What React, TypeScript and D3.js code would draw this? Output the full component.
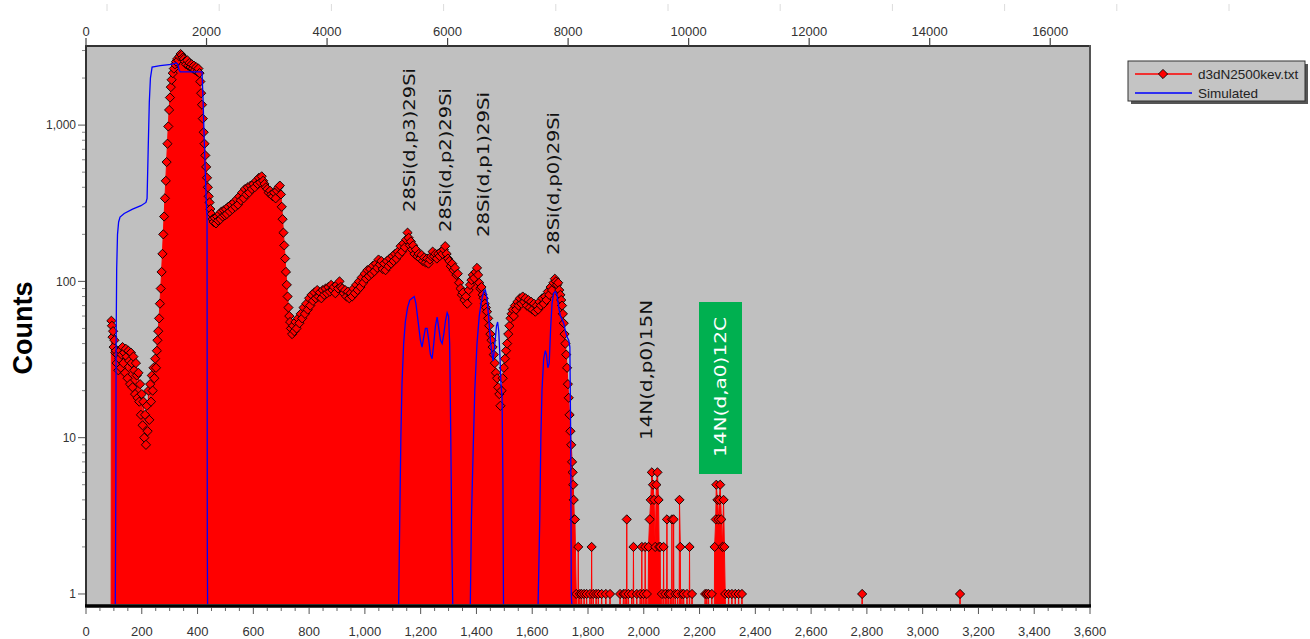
import React from 'react';
import * as d3 from 'd3';

const W = 1310;
const H = 639;
const plot = { left: 86, right: 1090, top: 47, bottom: 605 };

const specCh = [
  91, 93, 95, 97, 99, 102, 105, 107, 110, 113,
  116, 119, 122, 125, 128, 131, 134, 137, 140, 143,
  146, 149, 152, 155, 158, 161, 164, 167, 170, 173,
  176, 179, 182, 185, 188, 191, 194, 197, 200, 203,
  206, 209, 212, 215, 218, 221, 224, 227, 230, 233,
  236, 239, 242, 245, 248, 251, 254, 256, 259, 262,
  265, 268, 271, 274, 277, 280, 283, 286, 289, 292,
  295, 298, 301, 304, 307, 311, 315, 319, 323, 327,
  331, 335, 339, 343, 347, 351, 355, 359, 363, 367,
  371, 375, 379, 383, 387, 391, 395, 399, 403, 407,
  410, 413, 416, 419, 422, 425, 428, 431, 434, 437,
  440, 443, 446, 450, 454, 458, 462, 466, 470, 474,
  478, 482, 486, 490, 494, 498, 502, 505, 510, 515,
  520, 525, 530, 535, 540, 545, 550, 555, 560, 565,
  570, 575, 580, 585, 590, 595, 600, 605, 610, 615,
  620, 625, 630, 635, 640, 645, 650, 655, 660, 665,
  670, 675, 680, 685, 690, 695, 699, 702, 705, 708,
  711, 714, 717, 720, 723, 726, 729, 732, 735, 739,
  743, 747, 751, 755, 760, 765, 770, 775, 780, 785,
  790, 795, 800, 804, 809, 814, 819, 824, 829, 834,
  839, 844, 849, 854, 859, 864, 869, 874, 879, 884,
  889, 894, 899, 904, 909, 914, 919, 924, 929, 934,
  939, 944, 949, 954, 959, 964, 969, 974, 979, 984,
  989, 994, 999, 1004, 1009, 1014, 1019, 1024, 1029, 1034,
  1039, 1044, 1049, 1054, 1059, 1064, 1069, 1074, 1079, 1084,
  1089, 1094, 1099, 1103, 1108, 1113, 1118, 1123, 1128, 1133,
  1138, 1143, 1148, 1153, 1157, 1161, 1165, 1169, 1173, 1178,
  1183, 1188, 1193, 1198, 1203, 1208, 1213, 1218, 1223, 1228,
  1233, 1238, 1243, 1248, 1253, 1258, 1263, 1268, 1273, 1278,
  1283, 1288, 1293, 1298, 1303, 1308, 1313, 1318, 1323, 1328,
  1333, 1338, 1343, 1348, 1352, 1357, 1362, 1367, 1372, 1377,
  1382, 1387, 1392, 1397, 1402, 1406, 1410, 1414, 1418, 1422,
  1426, 1430, 1434, 1438, 1442, 1446, 1450, 1454, 1458, 1462,
  1466, 1470, 1474, 1478, 1482, 1486, 1490, 1494, 1498, 1502,
  1506, 1510, 1514, 1518, 1522, 1526, 1530, 1534, 1538, 1542,
  1547, 1551, 1556, 1561, 1566, 1571, 1576, 1581, 1586, 1591,
  1596, 1601, 1606, 1611, 1616, 1621, 1626, 1631, 1636, 1641,
  1646, 1651, 1656, 1661, 1666, 1671, 1676, 1681, 1685, 1689,
  1693, 1697, 1701, 1704, 1707, 1710, 1713, 1716, 1719, 1722,
  1725, 1728, 1731, 1734, 1737, 1740, 1743, 1745, 1747, 1749,
  1751, 1753,
];
const specCounts = [
  56, 52, 44, 48, 38, 42, 35, 36, 30, 34,
  27, 32, 36, 28, 34, 38, 30, 35, 26, 37,
  33, 24, 36, 31, 22, 35, 30, 21, 33, 27,
  19, 30, 25, 18, 26, 17, 22, 14, 19, 12,
  17, 10, 14, 9, 16, 11, 20, 13, 22, 17,
  25, 20, 28, 24, 32, 28, 36, 42, 48, 58,
  72, 90, 115, 150, 200, 260, 340, 440, 580, 760,
  980, 1250, 1500, 1750, 1950, 2150, 2300, 2450, 2550, 2650,
  2600, 2750, 2850, 2800, 2700, 2650, 2550, 2450, 2600, 2400,
  2500, 2350, 2450, 2300, 2400, 2250, 2350, 2200, 2300, 2150,
  1900, 1600, 1350, 1100, 900, 760, 640, 540, 460, 400,
  350, 320, 290, 270, 250, 240, 255, 235, 260, 245,
  270, 250, 280, 260, 285, 265, 290, 270, 300, 280,
  310, 290, 320, 300, 335, 310, 350, 330, 370, 340,
  390, 360, 400, 370, 410, 390, 420, 400, 440, 420,
  460, 430, 470, 440, 420, 400, 390, 370, 380, 360,
  350, 370, 340, 380, 400, 410, 360, 300, 250, 205,
  170, 140, 115, 95, 80, 68, 60, 55, 50, 46,
  52, 48, 55, 50, 58, 54, 62, 58, 68, 62,
  72, 66, 78, 70, 82, 75, 85, 78, 88, 80,
  85, 78, 88, 82, 90, 84, 92, 86, 95, 88,
  92, 84, 95, 90, 100, 92, 90, 84, 88, 80,
  86, 78, 84, 80, 90, 84, 95, 88, 100, 92,
  106, 98, 112, 104, 118, 108, 120, 112, 126, 116,
  130, 122, 138, 128, 135, 120, 130, 118, 135, 125,
  140, 130, 145, 135, 150, 140, 155, 148, 168, 155,
  175, 165, 185, 205, 190, 170, 180, 160, 170, 150,
  160, 145, 150, 140, 148, 135, 142, 132, 140, 130,
  138, 145, 155, 145, 150, 140, 150, 145, 155, 150,
  160, 168, 150, 140, 135, 125, 130, 118, 122, 110,
  112, 98, 90, 82, 85, 76, 80, 72, 88, 95,
  102, 110, 105, 115, 122, 110, 98, 90, 92, 82,
  78, 72, 68, 64, 58, 52, 46, 42, 38, 34,
  30, 26, 24, 21, 19, 16, 20, 24, 28, 32,
  36, 40, 46, 52, 58, 62, 66, 60, 70, 66,
  74, 70, 78, 72, 80, 74, 78, 70, 76, 68,
  74, 66, 72, 64, 70, 66, 74, 70, 78, 72,
  80, 76, 86, 82, 92, 88, 98, 104, 100, 95,
  98, 88, 82, 76, 70, 62, 54, 46, 40, 34,
  28, 22, 18, 14, 11, 9, 7, 6, 5, 4,
  3, 3,
];

// sparse high-channel counts (zero elsewhere)
const tailCh = [
  1758, 1765, 1771, 1777, 1786, 1795, 1807, 1813, 1819, 1829,
  1837, 1849, 1864, 1879, 1915, 1927, 1933, 1939, 1945, 1957,
  1963, 1975, 1987, 1993, 1999, 2005, 2011, 2017, 2021, 2025,
  2029, 2033, 2037, 2041, 2045, 2049, 2053, 2055, 2059, 2065,
  2071, 2077, 2083, 2089, 2095, 2101, 2107, 2113, 2121, 2128,
  2131, 2137, 2143, 2155, 2164, 2173, 2220, 2226, 2232, 2244,
  2254, 2258, 2260, 2264, 2268, 2271, 2274, 2278, 2282, 2286,
  2289, 2292, 2304, 2316, 2328, 2340, 2352, 2783, 3134,
];
const tailCounts = [
  1, 2, 1, 1, 1, 1, 1, 2, 1, 1,
  1, 1, 1, 1, 1, 1, 1, 3, 1, 1,
  2, 1, 1, 2, 1, 2, 1, 2, 3, 4,
  6, 5, 4, 2, 5, 6, 4, 2, 2, 1,
  2, 1, 3, 1, 1, 3, 3, 1, 1, 4,
  2, 1, 1, 1, 2, 1, 1, 1, 1, 1,
  2, 3, 5, 4, 3, 4, 5, 3, 2, 4,
  2, 1, 1, 1, 1, 1, 1, 1, 1,
];

// simulated spectrum
const simCh = [
  0, 105, 107, 108, 110, 113, 117, 122, 137, 167,
  197, 215, 219, 223, 227, 231, 237, 266, 306, 324,
  329, 334, 338, 416, 420, 424, 428, 432, 434, 435,
  436, 1121, 1125, 1129, 1133, 1139, 1145, 1153, 1161, 1169,
  1177, 1183, 1191, 1199, 1205, 1211, 1217, 1223, 1229, 1235,
  1241, 1247, 1253, 1259, 1265, 1271, 1277, 1283, 1289, 1295,
  1300, 1304, 1308, 1312, 1315, 1378, 1382, 1388, 1394, 1402,
  1410, 1418, 1426, 1432, 1438, 1444, 1450, 1456, 1460, 1466,
  1472, 1476, 1480, 1484, 1488, 1492, 1495, 1497, 1621, 1627,
  1631, 1635, 1641, 1647, 1651, 1656, 1661, 1666, 1671, 1677,
  1683, 1689, 1695, 1701, 1707, 1713, 1719, 1725, 1731, 1735,
  1738, 1740, 1742, 3600,
];
const simCounts = [
  0, 0, 5, 40, 120, 200, 240, 258, 272, 290,
  305, 320, 340, 700, 1400, 2000, 2350, 2400, 2450, 2500,
  2450, 2250, 2190, 2190, 1400, 800, 480, 300, 260, 2,
  0, 0, 3, 10, 22, 40, 55, 68, 76, 78,
  80, 72, 55, 42, 38, 44, 50, 50, 42, 34,
  32, 40, 52, 59, 50, 42, 40, 46, 56, 63,
  60, 40, 10, 2, 0, 0, 3, 8, 20, 40,
  60, 75, 86, 88, 78, 58, 42, 34, 31, 40,
  52, 55, 48, 34, 22, 18, 5, 0, 0, 3,
  10, 20, 32, 36, 34, 28, 30, 50, 72, 84,
  86, 82, 68, 60, 57, 54, 48, 44, 42, 38,
  10, 1, 0, 0,
];

const channelTicks = [0, 200, 400, 600, 800, 1000, 1200, 1400, 1600, 1800, 2000, 2200, 2400, 2600, 2800, 3000, 3200, 3400, 3600];
const energyTicks = [0, 2000, 4000, 6000, 8000, 10000, 12000, 14000, 16000];
const countTicks = [1, 10, 100, 1000];

const peakLabels = ['28Si(d,p3)29Si', '28Si(d,p2)29Si', '28Si(d,p1)29Si', '28Si(d,p0)29Si', '14N(d,p0)15N', '14N(d,a0)12C'];
// label placement (screen px): centre x, top and bottom of the rotated text
const peakLayout = [
  { cx: 409, top: 68, bottom: 212 },
  { cx: 445, top: 88, bottom: 232 },
  { cx: 483, top: 92, bottom: 237 },
  { cx: 553, top: 112, bottom: 255 },
  { cx: 646, top: 300, bottom: 440 },
  { cx: 720, top: 317, bottom: 457 },
];
const legendLabels = ['d3dN2500kev.txt', 'Simulated'];

const diamond = 'M0,-4.6L4.6,0L0,4.6L-4.6,0Z';
const sans = "'Liberation Sans', Arial, sans-serif";

export default function App() {
  const x = d3.scaleLinear().domain([0, 3600]).range([plot.left, plot.right]);
  const xTop = d3.scaleLinear().domain([0, 16660]).range([plot.left, plot.right]);
  const y = d3.scaleLog().domain([0.85, 3160]).range([plot.bottom, plot.top]).clamp(true);

  // spectrum with zero channels between separated points
  const raw: [number, number][] = specCh
    .map((c, i) => [c, specCounts[i]] as [number, number])
    .concat(tailCh.map((c, i) => [c, tailCounts[i]] as [number, number]));
  const series: [number, number][] = [];
  raw.forEach((p, i) => {
    const prev = raw[i - 1];
    const next = raw[i + 1];
    if (!prev || p[0] - prev[0] > 5) series.push([p[0] - 1, 0]);
    series.push(p);
    if (!next || next[0] - p[0] > 5) series.push([p[0] + 1, 0]);
  });
  const sim: [number, number][] = simCh.map((c, i) => [c, simCounts[i]]);

  const area = d3.area<[number, number]>()
    .x(d => x(d[0]))
    .y0(plot.bottom)
    .y1(d => y(d[1]));
  const line = d3.line<[number, number]>()
    .x(d => x(d[0]))
    .y(d => y(d[1]));

  const minorX = d3.range(0, 3601, 50).filter(v => v % 200 !== 0);
  const minorY = y.ticks().filter(v => countTicks.indexOf(v) < 0 && v >= 1);
  const ghost = d3.scaleLinear().domain([0, 10]).range([107, 1229]);
  const fmt = d3.format(',');

  return (
    <svg width={W} height={H} style={{ position: 'absolute', left: 0, top: 0, background: '#fff' }} fontFamily={sans}>
      <defs>
        <clipPath id="plotClip">
          <rect x={plot.left} y={plot.top} width={plot.right - plot.left} height={plot.bottom - plot.top - 1} />
        </clipPath>
      </defs>

      {d3.range(11).map(i => (
        <line key={'g' + i} x1={ghost(i)} x2={ghost(i)} y1={4} y2={11} stroke="#dcdcdc" strokeWidth={1} />
      ))}

      <rect x={plot.left} y={plot.top} width={plot.right - plot.left} height={plot.bottom - plot.top} fill="#c0c0c0" />

      <g clipPath="url(#plotClip)">
        <path d={area(series) || ''} fill="#ff0000" />
        <path d={line(series) || ''} fill="none" stroke="#ff0000" strokeWidth={1} />
        {series.filter(d => d[1] > 0).map((d, i) => (
          <path key={i} d={diamond} transform={`translate(${x(d[0])},${y(d[1])})`} fill="#ff0000" stroke="#000" strokeWidth={0.9} />
        ))}
        <path d={line(sim) || ''} fill="none" stroke="#0000ff" strokeWidth={1.3} />
      </g>

      {/* frame */}
      <line x1={plot.left} x2={plot.right} y1={46} y2={46} stroke="#333" strokeWidth={2} />
      <line x1={plot.left} x2={plot.left} y1={45} y2={607} stroke="#333" strokeWidth={2} />
      <line x1={plot.right} x2={plot.right} y1={45} y2={607} stroke="#555" strokeWidth={2} />
      <line x1={plot.left - 1} x2={plot.right + 1} y1={606} y2={606} stroke="#000" strokeWidth={3.5} />

      {/* bottom axis */}
      {minorX.map(v => (
        <line key={'mx' + v} x1={x(v)} x2={x(v)} y1={608} y2={611} stroke="#666" strokeWidth={1} />
      ))}
      {channelTicks.map(v => (
        <g key={'bx' + v}>
          <line x1={x(v)} x2={x(v)} y1={608} y2={614} stroke="#555" strokeWidth={1} />
          <text x={x(v)} y={636} textAnchor="middle" fontSize={13} fill="#333">{fmt(v)}</text>
        </g>
      ))}

      {/* top axis */}
      {energyTicks.map(v => (
        <g key={'tx' + v}>
          <line x1={xTop(v)} x2={xTop(v)} y1={38} y2={46} stroke="#444" strokeWidth={1.2} />
          <text x={xTop(v)} y={36} textAnchor="middle" fontSize={13} fill="#333">{v}</text>
        </g>
      ))}

      {/* left axis */}
      {minorY.map(v => (
        <line key={'my' + v} x1={82} x2={85} y1={y(v)} y2={y(v)} stroke="#888" strokeWidth={1} />
      ))}
      {countTicks.map(v => (
        <g key={'ly' + v}>
          <line x1={78} x2={85} y1={y(v)} y2={y(v)} stroke="#555" strokeWidth={1} />
          <text x={76} y={y(v) + 4.3} textAnchor="end" fontSize={12} fill="#333">{fmt(v)}</text>
        </g>
      ))}
      <text transform="translate(32,328) rotate(-90)" textAnchor="middle" fontSize={27} fontWeight="bold" fill="#000">Counts</text>

      {/* peak annotations */}
      <rect x={699} y={302} width={43} height={172} fill="#00b050" />
      {peakLabels.map((t, i) => {
        const p = peakLayout[i];
        const green = i === peakLabels.length - 1;
        return (
          <text
            key={t}
            transform={`translate(${p.cx},${(p.top + p.bottom) / 2}) rotate(-90)`}
            textAnchor="middle"
            dominantBaseline="central"
            fontFamily="'DejaVu Sans', sans-serif"
            fontSize={16}
            textLength={p.bottom - p.top}
            lengthAdjust="spacingAndGlyphs"
            fill={green ? '#ffffff' : '#111'}
          >
            {t}
          </text>
        );
      })}

      {/* legend */}
      <rect x={1131} y={64} width={177} height={40} fill="#555" />
      <rect x={1128} y={61} width={177} height={40} fill="#c4c4c4" stroke="#333" strokeWidth={1} />
      <line x1={1135} x2={1192} y1={74} y2={74} stroke="#ff0000" strokeWidth={1.3} />
      <path d={diamond} transform="translate(1163,74)" fill="#ff0000" stroke="#000" strokeWidth={0.9} />
      <text x={1198} y={78.5} fontSize={13.5} fill="#222">{legendLabels[0]}</text>
      <line x1={1135} x2={1192} y1={93} y2={93} stroke="#0000ff" strokeWidth={1.3} />
      <text x={1198} y={97.5} fontSize={13.5} fill="#222">{legendLabels[1]}</text>
    </svg>
  );
}
